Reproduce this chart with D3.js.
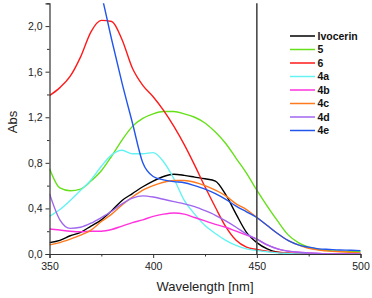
<!DOCTYPE html>
<html><head><meta charset="utf-8">
<script src="https://cdn.jsdelivr.net/npm/d3@7"></script>
<style>body{margin:0;background:#fff}svg{display:block}text{font-family:"Liberation Sans",Arial,sans-serif}</style>
</head><body><svg id="c" width="372" height="298"></svg>
<script>
const wavelengths = d3.range(350, 501, 5);
const seriesNames = ["Ivocerin", "5", "6", "4a", "4b", "4c", "4d", "4e"];
const seriesColors = ["#000000", "#66e01a", "#ff1a1a", "#66f2f2", "#ff33dd", "#ff7a1e", "#a066ee", "#2255ee"];
const ivocerin = [0.10,0.12,0.16,0.19,0.245,0.30,0.38,0.47,0.53,0.59,0.64,0.68,0.70,0.69,0.675,0.66,0.64,0.52,0.35,0.19,0.10,0.045,0.015,0.005,0,0,0,0,0,0,0];
const s5 = [0.75,0.58,0.555,0.57,0.64,0.73,0.86,1.00,1.12,1.19,1.23,1.25,1.25,1.23,1.20,1.15,1.07,0.97,0.84,0.71,0.56,0.42,0.29,0.17,0.10,0.06,0.04,0.03,0.025,0.02,0.02];
const s6 = [1.39,1.46,1.56,1.73,1.95,2.05,2.04,1.88,1.63,1.48,1.38,1.26,1.12,0.96,0.78,0.59,0.41,0.24,0.12,0.06,0.04,0.025,0.015,0.01,0.005,0,0,0,0,0,0];
const s4a = [0.33,0.39,0.47,0.56,0.65,0.77,0.87,0.91,0.88,0.88,0.89,0.81,0.66,0.47,0.35,0.25,0.18,0.12,0.075,0.045,0.03,0.02,0.01,0.005,0,0,0,0,0,0,0];
const s4b = [0.22,0.21,0.20,0.195,0.20,0.20,0.215,0.245,0.275,0.30,0.33,0.35,0.36,0.35,0.32,0.29,0.26,0.235,0.20,0.165,0.13,0.08,0.045,0.025,0.015,0.01,0.005,0,0,0,0];
const s4c = [0.08,0.10,0.13,0.165,0.21,0.285,0.35,0.43,0.50,0.56,0.60,0.63,0.645,0.645,0.63,0.60,0.56,0.51,0.44,0.39,0.32,0.25,0.18,0.12,0.08,0.05,0.035,0.025,0.02,0.015,0.01];
const s4d = [0.53,0.30,0.225,0.235,0.27,0.32,0.375,0.44,0.49,0.51,0.50,0.48,0.46,0.44,0.415,0.38,0.34,0.29,0.235,0.175,0.13,0.08,0.045,0.025,0.015,0.01,0.005,0,0,0,0];
const s4e = [null,null,null,null,2.6,2.28,1.88,1.50,1.15,0.80,0.68,0.65,0.635,0.625,0.60,0.57,0.53,0.48,0.42,0.37,0.32,0.25,0.18,0.12,0.08,0.06,0.045,0.04,0.035,0.033,0.03];
const seriesValues = [ivocerin, s5, s6, s4a, s4b, s4c, s4d, s4e];
const xMajorTicks = [350, 400, 450, 500];
const xMinorTicks = [375, 425, 475];
const yMajorTicks = [0, 0.4, 0.8, 1.2, 1.6, 2.0];
const yMinorTicks = [0.2, 0.6, 1.0, 1.4, 1.8, 2.2];
const markerLine = 450;

const svg = d3.select("#c");
const mLeft = 49.5, mRight = 360.5, mTop = 3.3, mBottom = 254;
const x = d3.scaleLinear().domain([350, 500]).range([mLeft, mRight]);
const y = d3.scaleLinear().domain([0, 2.2]).range([mBottom, mTop]);

svg.append("defs").append("clipPath").attr("id","clip")
  .append("rect").attr("x", mLeft).attr("y", mTop).attr("width", mRight-mLeft+2).attr("height", mBottom-mTop);

const line = d3.line().defined(d => d[1] != null).x(d => x(d[0])).y(d => y(d[1])).curve(d3.curveMonotoneX);
const g = svg.append("g").attr("clip-path","url(#clip)");
seriesValues.forEach((vals, i) => {
  g.append("path").datum(wavelengths.map((w, j) => [w, vals[j]]))
    .attr("d", line).attr("fill","none").attr("stroke", seriesColors[i]).attr("stroke-width", 1.4);
});

svg.append("line").attr("x1", x(markerLine)).attr("x2", x(markerLine)).attr("y1", y(2.2)).attr("y2", y(0))
  .attr("stroke","#4a4a4a").attr("stroke-width",1.6);

const fmt = d => d3.format(".1f")(d).replace(".", ",");
svg.append("g").attr("transform",`translate(${mLeft},0)`)
  .call(d3.axisLeft(y).tickValues(yMajorTicks).tickSize(4).tickPadding(3).tickFormat(fmt));
svg.append("g").attr("transform",`translate(${mLeft},0)`)
  .call(d3.axisLeft(y).tickValues(yMinorTicks).tickSize(2.5).tickFormat(""))
  .select(".domain").remove();
svg.append("g").attr("transform",`translate(0,${mBottom})`)
  .call(d3.axisBottom(x).tickValues(xMajorTicks).tickSize(4).tickPadding(5).tickFormat(d3.format("d")));
svg.append("g").attr("transform",`translate(0,${mBottom})`)
  .call(d3.axisBottom(x).tickValues(xMinorTicks).tickSize(2.5).tickFormat(""))
  .select(".domain").remove();
svg.selectAll(".domain").attr("stroke","#333").attr("stroke-width",1.2);
svg.selectAll(".tick line").attr("stroke","#333");
svg.selectAll(".tick text").attr("font-size","10.5px").attr("fill","#222").attr("font-family",'"Liberation Sans",Arial,sans-serif');

svg.append("text").attr("x", (mLeft+mRight)/2).attr("y", 291).attr("text-anchor","middle")
  .attr("font-size","13px").attr("fill","#222").text("Wavelength [nm]");
svg.append("text").attr("transform","translate(17,122) rotate(-90)").attr("text-anchor","middle")
  .attr("font-size","13px").attr("fill","#222").text("Abs");

const lg = svg.append("g");
seriesNames.forEach((n, i) => {
  const yy = 36 + i*13.5;
  lg.append("line").attr("x1",290).attr("x2",315).attr("y1",yy).attr("y2",yy)
    .attr("stroke", seriesColors[i]).attr("stroke-width",1.5);
  lg.append("text").attr("x",317.5).attr("y",yy+3.8).attr("font-size","10.5px").attr("font-weight","bold")
    .attr("fill","#111").text(n);
});
</script></body></html>
